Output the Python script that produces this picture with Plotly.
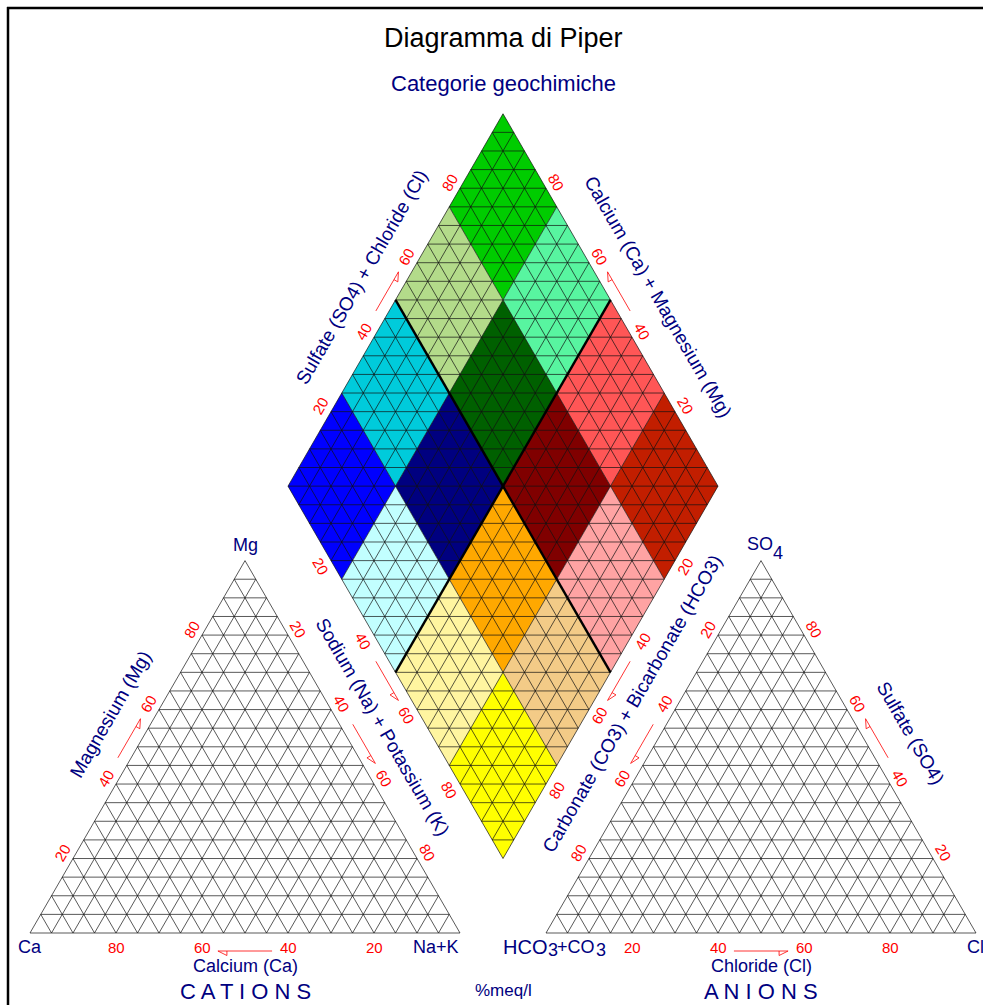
import math
import plotly.graph_objects as go

# ------------------------- data -------------------------
TITLE = "Diagramma di Piper"
SUBTITLE = "Categorie geochimiche"
UNITS = "%meq/l"
TICK_VALUES = [20, 40, 60, 80]
GRID_PERCENT_STEP = 5
DIVIDER_PERCENT = [50]
CELL_SPLIT = 4
CELL_A = [3, 3, 2, 3, 2, 1, 3, 2, 1, 0, 2, 1, 0, 1, 0, 0]   # Ca+Mg quarter index
CELL_B = [3, 2, 3, 1, 2, 3, 0, 1, 2, 3, 0, 1, 2, 0, 1, 0]   # SO4+Cl quarter index
CELL_COLORS = ["#00CC00", "#B3DB8A", "#58F5A0", "#00CBDB", "#006000", "#FF5656",
               "#0000FF", "#000080", "#800000", "#C21E00", "#C2FFFF", "#FFA800",
               "#FFA3A3", "#FFF5A0", "#F3CB87", "#FFFF00"]
AXIS_TITLES = {
    "lt_left": "Magnesium (Mg)",
    "lt_bottom": "Calcium (Ca)",
    "rt_bottom": "Chloride (Cl)",
    "rt_right": "Sulfate (SO4)",
    "dm_ul": "Sulfate (SO4) + Chloride (Cl)",
    "dm_ur": "Calcium (Ca) + Magnesium (Mg)",
    "dm_ll": "Sodium (Na) + Potassium (K)",
    "dm_lr": "Carbonate (CO3) + Bicarbonate (HCO3)",
}
GROUP_LABELS = ["C A T I O N S", "A N I O N S"]

# ------------------------- layout / geometry -------------------------
W, H = 983, 1005
L = 430.0
X0, Y0 = 30.0, 933.0
GAP = 0.2
h = L * math.sqrt(3) / 2
S3 = math.sqrt(3) / 2
FONT = "Liberation Sans, Arial, sans-serif"
NAVY = "#000080"
RED = "#FF0000"

CA = (X0, Y0); NAK = (X0 + L, Y0); MG = (X0 + L / 2, Y0 - h)
XR = X0 + L + GAP * L
HCO = (XR, Y0); CL = (XR + L, Y0); SO4 = (XR + L / 2, Y0 - h)
DB = (X0 + L + GAP * L / 2, Y0 - GAP * h)
E1 = (-L / 2, -h); E2 = (L / 2, -h)


def comb(ws, vs):
    return (sum(w * v[0] for w, v in zip(ws, vs)), sum(w * v[1] for w, v in zip(ws, vs)))


def lt(ca, mg, nak):
    return comb([ca, mg, nak], [CA, MG, NAK])


def rt(hco, so4, cl):
    return comb([hco, so4, cl], [HCO, SO4, CL])


def dm(a, b):
    return (DB[0] + a * E1[0] + b * E2[0], DB[1] + a * E1[1] + b * E2[1])


NB = (0.0, 1.0); NUL = (-S3, -0.5); NUR = (S3, -0.5); NLL = (-S3, 0.5); NLR = (S3, 0.5)
EDGES = {
    "lt_bottom": (lambda v: lt(v, 0, 1 - v), NB, 0),
    "lt_left": (lambda v: lt(1 - v, v, 0), NUL, -60),
    "lt_right": (lambda v: lt(0, 1 - v, v), NUR, 60),
    "rt_bottom": (lambda v: rt(1 - v, 0, v), NB, 0),
    "rt_left": (lambda v: rt(v, 1 - v, 0), NUL, -60),
    "rt_right": (lambda v: rt(0, v, 1 - v), NUR, 60),
    "dm_ul": (lambda v: dm(1, v), NUL, -60),
    "dm_ur": (lambda v: dm(v, 1), NUR, 60),
    "dm_ll": (lambda v: dm(1 - v, 0), NLL, 60),
    "dm_lr": (lambda v: dm(0, 1 - v), NLR, -60),
}
TITLE_POS = {"lt_left": (0.534, 40), "rt_right": (0.48, 43), "dm_ul": (0.506, 41),
             "dm_ur": (0.452, 43), "dm_ll": (0.596, 38), "dm_lr": (0.538, 35),
             "lt_bottom": (0.5, 33), "rt_bottom": (0.5, 33)}

fig = go.Figure()


def add_lines(segs, color, width):
    xs, ys = [], []
    for p, q in segs:
        xs += [p[0], q[0], None]
        ys += [p[1], q[1], None]
    fig.add_trace(go.Scatter(x=xs, y=ys, mode="lines", line=dict(color=color, width=width),
                             hoverinfo="skip", showlegend=False))


# colored category cells
for i, j, col in zip(CELL_A, CELL_B, CELL_COLORS):
    a0, a1 = i / CELL_SPLIT, (i + 1) / CELL_SPLIT
    b0, b1 = j / CELL_SPLIT, (j + 1) / CELL_SPLIT
    pts = [dm(a0, b0), dm(a1, b0), dm(a1, b1), dm(a0, b1), dm(a0, b0)]
    fig.add_trace(go.Scatter(x=[p[0] for p in pts], y=[p[1] for p in pts], mode="lines",
                             fill="toself", fillcolor=col, line=dict(width=0, color=col),
                             hoverinfo="skip", showlegend=False))

n = int(100 / GRID_PERCENT_STEP)


def tri_grid(V):
    segs = []
    for m in range(3):
        o1, o2 = [V[k] for k in range(3) if k != m]
        for k in range(n):
            f = k / n
            p = (f * V[m][0] + (1 - f) * o1[0], f * V[m][1] + (1 - f) * o1[1])
            q = (f * V[m][0] + (1 - f) * o2[0], f * V[m][1] + (1 - f) * o2[1])
            segs.append((p, q))
    return segs


segs = tri_grid([CA, NAK, MG]) + tri_grid([HCO, CL, SO4])
for k in range(n + 1):
    f = k / n
    segs.append((dm(f, 0), dm(f, 1)))
    segs.append((dm(0, f), dm(1, f)))
for k in range(1, 2 * n):
    s = k / n
    if s <= 1:
        segs.append((dm(s, 0), dm(0, s)))
    else:
        segs.append((dm(1, s - 1), dm(s - 1, 1)))
add_lines(segs, "#111111", 0.7)

# thick dividers
div = []
for p in DIVIDER_PERCENT:
    f = p / 100
    div.append((dm(f, 0), dm(f, 1)))
    div.append((dm(0, f), dm(1, f)))
add_lines(div, "#000000", 2.4)

annotations = []


def ann(x, y, text, size, color, angle=0, xanchor="center"):
    annotations.append(dict(x=x, y=y, xref="x", yref="y", text=text, showarrow=False,
                            textangle=angle, xanchor=xanchor, yanchor="middle",
                            borderpad=0, font=dict(family=FONT, size=size, color=color)))


# tick labels + arrows
arrow_segs = []
for key, (fn, nrm, ang) in EDGES.items():
    bottom = key.endswith("bottom")
    off = 14 if bottom else 12
    for t in TICK_VALUES:
        p = fn(t / 100)
        ann(p[0] + nrm[0] * off, p[1] + nrm[1] * off, str(t), 15, RED, ang)
    d = 18 if bottom else 11.5
    v0, v1 = (0.437, 0.563) if bottom else (0.455, 0.56)
    s = fn(v0); e = fn(v1)
    s = (s[0] + nrm[0] * d, s[1] + nrm[1] * d)
    e = (e[0] + nrm[0] * d, e[1] + nrm[1] * d)
    ln = math.hypot(e[0] - s[0], e[1] - s[1])
    u = ((e[0] - s[0]) / ln, (e[1] - s[1]) / ln)
    pp = (-u[1], u[0])
    if pp[1] < 0 or (abs(pp[1]) < 1e-9 and pp[0] < 0):
        pp = (-pp[0], -pp[1])
    back = (e[0] - u[0] * 9, e[1] - u[1] * 9)
    side = (back[0] + pp[0] * 4.5, back[1] + pp[1] * 4.5)
    arrow_segs += [(s, e), (e, side), (side, back)]
    # axis titles
    if key in TITLE_POS:
        tv, td = TITLE_POS[key]
        p = fn(tv)
        size = 18 if bottom else 19
        ann(p[0] + nrm[0] * td, p[1] + nrm[1] * td, AXIS_TITLES[key], size, NAVY, ang)
add_lines(arrow_segs, RED, 0.8)

# vertex labels
ann(CA[0], CA[1] + 14, "Ca", 18, NAVY)
ann(NAK[0], NAK[1] + 14, "Na+K", 18, NAVY, xanchor="right")
ann(MG[0], MG[1] - 16, "Mg", 18, NAVY)
ann(CL[0] - 10, CL[1] + 14, "Cl", 18, NAVY, xanchor="left")
ann(SO4[0] - 1, SO4[1] - 17, "SO", 18, NAVY)
ann(SO4[0] + 17, SO4[1] - 8, "4", 18, NAVY)
ann(HCO[0] - 44.5, HCO[1] + 14, "HCO", 20, NAVY, xanchor="left")
ann(HCO[0] + 0.5, HCO[1] + 17, "3", 18, NAVY, xanchor="left")
ann(HCO[0] + 9.5, HCO[1] + 14, "+CO", 18, NAVY, xanchor="left")
ann(HCO[0] + 48.5, HCO[1] + 17, "3", 18, NAVY, xanchor="left")

# group labels and titles
ann(MG[0], Y0 + 58, GROUP_LABELS[0], 22, NAVY)
ann(SO4[0], Y0 + 58, GROUP_LABELS[1], 22, NAVY)
ann(DB[0], Y0 + 57, UNITS, 17, NAVY)
ann(DB[0], 38, TITLE, 27, "#000000")
ann(DB[0], 83, SUBTITLE, 22, NAVY)

# frame
shapes = [dict(type="line", x0=7, y0=8, x1=W, y1=8, xref="x", yref="y", line=dict(color="black", width=2.5)),
          dict(type="line", x0=8, y0=7, x1=8, y1=H, xref="x", yref="y", line=dict(color="black", width=2.5))]

fig.update_layout(width=W, height=H, autosize=False, margin=dict(l=0, r=0, t=0, b=0),
                  paper_bgcolor="white", plot_bgcolor="white",
                  xaxis=dict(range=[0, W], visible=False, fixedrange=True),
                  yaxis=dict(range=[H, 0], visible=False, fixedrange=True),
                  annotations=annotations, shapes=shapes, showlegend=False)
fig.write_html("out.html", config={"displayModeBar": False},
               post_script="document.body.style.margin='0px';document.body.style.padding='0px';")
